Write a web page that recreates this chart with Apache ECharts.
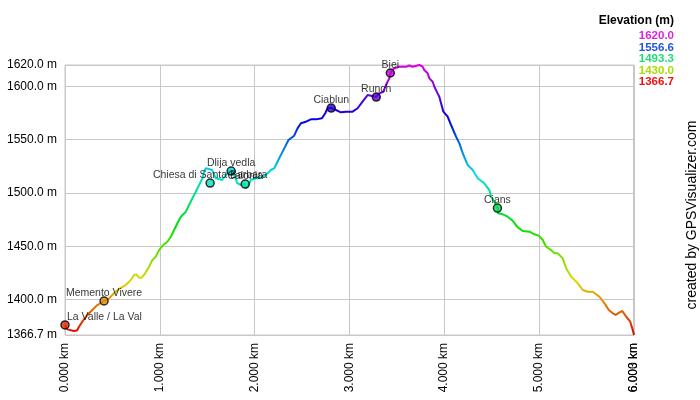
<!DOCTYPE html>
<html>
<head>
<meta charset="utf-8">
<script src="https://cdn.jsdelivr.net/npm/echarts@6/dist/echarts.min.js"></script>
<style>
  html, body { margin: 0; padding: 0; background: #fff; }
  #chart { width: 700px; height: 400px; }
</style>
</head>
<body>
<div id="chart"></div>
<script>
// ---- Track profile (distance km, elevation m) ----
var distKm = [0, 0.024, 0.042, 0.095, 0.127, 0.148, 0.183, 0.236, 0.288, 0.341,
  0.412, 0.465, 0.517, 0.570, 0.641, 0.694, 0.729, 0.753, 0.781, 0.810,
  0.845, 0.887, 0.922, 0.958, 0.993, 1.035, 1.080, 1.116, 1.151, 1.186,
  1.222, 1.275, 1.309, 1.344, 1.380, 1.415, 1.450, 1.468, 1.486, 1.552,
  1.591, 1.658, 1.697, 1.750, 1.785, 1.819, 1.859, 1.890, 1.908, 1.932,
  1.961, 2.014, 2.049, 2.119, 2.172, 2.207, 2.225, 2.260, 2.313, 2.358,
  2.418, 2.453, 2.489, 2.542, 2.595, 2.648, 2.711, 2.746, 2.770, 2.806,
  2.859, 2.911, 2.964, 3.034, 3.087, 3.139, 3.192, 3.228, 3.281, 3.316,
  3.358, 3.386, 3.421, 3.439, 3.474, 3.527, 3.598, 3.633, 3.668, 3.738,
  3.773, 3.791, 3.826, 3.844, 3.879, 3.897, 3.931, 3.949, 3.992, 4.037,
  4.073, 4.126, 4.161, 4.196, 4.248, 4.301, 4.354, 4.424, 4.477, 4.495,
  4.530, 4.565, 4.567, 4.618, 4.671, 4.723, 4.770, 4.829, 4.900, 4.952,
  4.998, 5.040, 5.076, 5.129, 5.164, 5.199, 5.251, 5.287, 5.340, 5.410,
  5.463, 5.515, 5.568, 5.639, 5.692, 5.737, 5.780, 5.808, 5.850, 5.879,
  5.921, 5.963, 5.990, 6.003];
var elevM = [1376.1, 1372.0, 1370.7, 1370.5, 1370.9, 1374.5, 1379.2, 1385.5, 1390.2, 1394.8,
  1398.6, 1401.1, 1405.8, 1409.9, 1413.6, 1418.3, 1423.0, 1423.6, 1420.5, 1420.5,
  1424.6, 1430.8, 1437.1, 1440.1, 1446.4, 1451.1, 1454.2, 1458.9, 1465.2, 1471.5,
  1477.7, 1482.4, 1488.7, 1494.9, 1501.1, 1507.4, 1513.7, 1519.9, 1523.1, 1521.5,
  1513.7, 1512.1, 1516.8, 1521.5, 1516.8, 1509.0, 1507.4, 1509.0, 1504.3, 1506.5,
  1512.1, 1513.7, 1513.7, 1516.8, 1521.5, 1523.1, 1526.2, 1532.5, 1541.8, 1549.6,
  1553.7, 1560.6, 1565.3, 1566.8, 1569.0, 1569.0, 1570.0, 1574.7, 1579.4, 1579.9,
  1577.8, 1575.6, 1576.2, 1576.2, 1579.4, 1585.6, 1591.8, 1591.2, 1590.2, 1593.4,
  1594.9, 1601.2, 1607.5, 1613.7, 1616.9, 1618.4, 1618.4, 1619.5, 1618.4, 1620.0,
  1618.4, 1615.3, 1612.2, 1607.5, 1604.3, 1599.6, 1593.4, 1590.2, 1576.2, 1571.5,
  1563.7, 1552.7, 1546.5, 1537.2, 1526.2, 1521.5, 1513.7, 1509.0, 1502.7, 1496.4,
  1491.7, 1485.6, 1480.9, 1479.9, 1477.7, 1473.9, 1468.3, 1464.3, 1463.6, 1461.2,
  1459.9, 1455.8, 1449.5, 1446.4, 1443.3, 1443.3, 1438.6, 1429.3, 1421.4, 1415.2,
  1408.9, 1407.3, 1407.3, 1402.6, 1396.4, 1390.2, 1387.1, 1385.5, 1388.0, 1389.2,
  1383.9, 1379.2, 1371.4, 1366.7];

// ---- Waypoints ----
var wptNames = ['La Valle / La Val', 'Memento Vivere', 'Chiesa di Santa Barbara', 'Dlija vedla',
  'Calonia', 'Ciablun', 'Runch', 'Biei', 'Cians'];
var wptDist = [0.0, 0.412, 1.531, 1.753, 1.901, 2.809, 3.284, 3.432, 4.562];
var wptElev = [1376.1, 1398.6, 1509.2, 1520.5, 1508.3, 1579.6, 1589.9, 1612.5, 1485.8];

// ---- Axes ----
var xMin = 0, xMax = 6.003;
var yMin = 1366.7, yMax = 1620.0;
var xTickLabels = [0, 1, 2, 3, 4, 5, 6.003];
var xExtraTickLabels = [6];
var yTickLabels = [1366.7, 1400, 1450, 1500, 1550, 1600, 1620];

// ---- Colour legend ----
var legendTitle = 'Elevation (m)';
var legendValues = [1620.0, 1556.6, 1493.3, 1430.0, 1366.7];
var legendColors = ['#dd22dd', '#2255dd', '#22dd77', '#aadd00', '#ee1111'];
var hueRamp = ['#e00000', '#e07000', '#e0d800', '#70e000', '#00e000', '#00e070',
  '#00e0e0', '#0070e0', '#0000e0', '#7000e0', '#e000e0'];

var FONT = '"Liberation Sans", Arial, sans-serif';

var lineData = distKm.map(function (d, i) { return [d, elevM[i]]; });
var wptData = wptNames.map(function (n, i) {
  var item = { name: n, value: [wptDist[i], wptElev[i]] };
  if (i === 0) item.label = { align: 'left', offset: [2, 2] };
  return item;
});

var graphics = [{
  type: 'text', right: 26, top: 15,
  style: { text: legendTitle, font: 'bold 12px ' + FONT, fill: '#000', align: 'right' }
}];
legendValues.forEach(function (v, i) {
  graphics.push({
    type: 'text', right: 26, top: 30 + i * 11.5,
    style: { text: v.toFixed(1), font: 'bold 11.5px ' + FONT, fill: legendColors[i], align: 'right' }
  });
});
graphics.push({
  type: 'text', x: 692, y: 215, rotation: Math.PI / 2,
  style: { text: 'created by GPSVisualizer.com', font: '14px ' + FONT, fill: '#000',
    align: 'center', verticalAlign: 'middle' }
});

function kmLabel(v) { return v.toFixed(3) + ' km'; }

var chart = echarts.init(document.getElementById('chart'), null, { renderer: 'canvas' });
chart.setOption({
  animation: false,
  backgroundColor: '#fff',
  grid: { left: 65, top: 65, width: 569, height: 270, show: true,
    borderColor: '#c8c8c8', borderWidth: 1, containLabel: false },
  xAxis: [{
    type: 'value', min: xMin, max: xMax, interval: 1,
    axisLine: { show: false },
    axisTick: { show: false },
    splitLine: { show: true, lineStyle: { color: '#c8c8c8', width: 1 } },
    axisLabel: {
      customValues: xTickLabels, showMaxLabel: true, showMinLabel: true, hideOverlap: false,
      rotate: 90, margin: 8, fontSize: 12, fontFamily: FONT, color: '#000',
      formatter: kmLabel
    }
  }, {
    type: 'value', min: xMin, max: xMax, position: 'bottom', offset: 0,
    axisLine: { show: false },
    axisTick: { show: false },
    splitLine: { show: false },
    axisLabel: {
      customValues: xExtraTickLabels, showMaxLabel: true, showMinLabel: true,
      rotate: 90, margin: 8, fontSize: 12, fontFamily: FONT, color: '#000',
      formatter: kmLabel
    }
  }],
  yAxis: {
    type: 'value', min: yMin, max: yMax,
    axisLine: { show: false },
    axisTick: { show: false },
    splitLine: { show: true, lineStyle: { color: '#c8c8c8', width: 1 } },
    axisLabel: {
      customValues: yTickLabels,
      margin: 8, fontSize: 12, fontFamily: FONT, color: '#000',
      formatter: function (v) { return v.toFixed(1) + ' m'; }
    }
  },
  visualMap: {
    type: 'continuous', show: false, min: yMin, max: yMax, dimension: 1,
    seriesIndex: [0, 1], inRange: { color: hueRamp }
  },
  series: [{
    type: 'line', data: lineData, showSymbol: false, symbol: 'none',
    lineStyle: { width: 2 }, z: 2
  }, {
    type: 'scatter', data: wptData, symbol: 'circle', symbolSize: 8, z: 3,
    itemStyle: { borderColor: '#000', borderWidth: 1.5 },
    label: { show: true, position: 'top', distance: 0, offset: [0, 2], formatter: '{b}',
      fontSize: 10.5, fontFamily: FONT, color: '#000' }
  }],
  graphic: graphics
});
</script>
</body>
</html>
